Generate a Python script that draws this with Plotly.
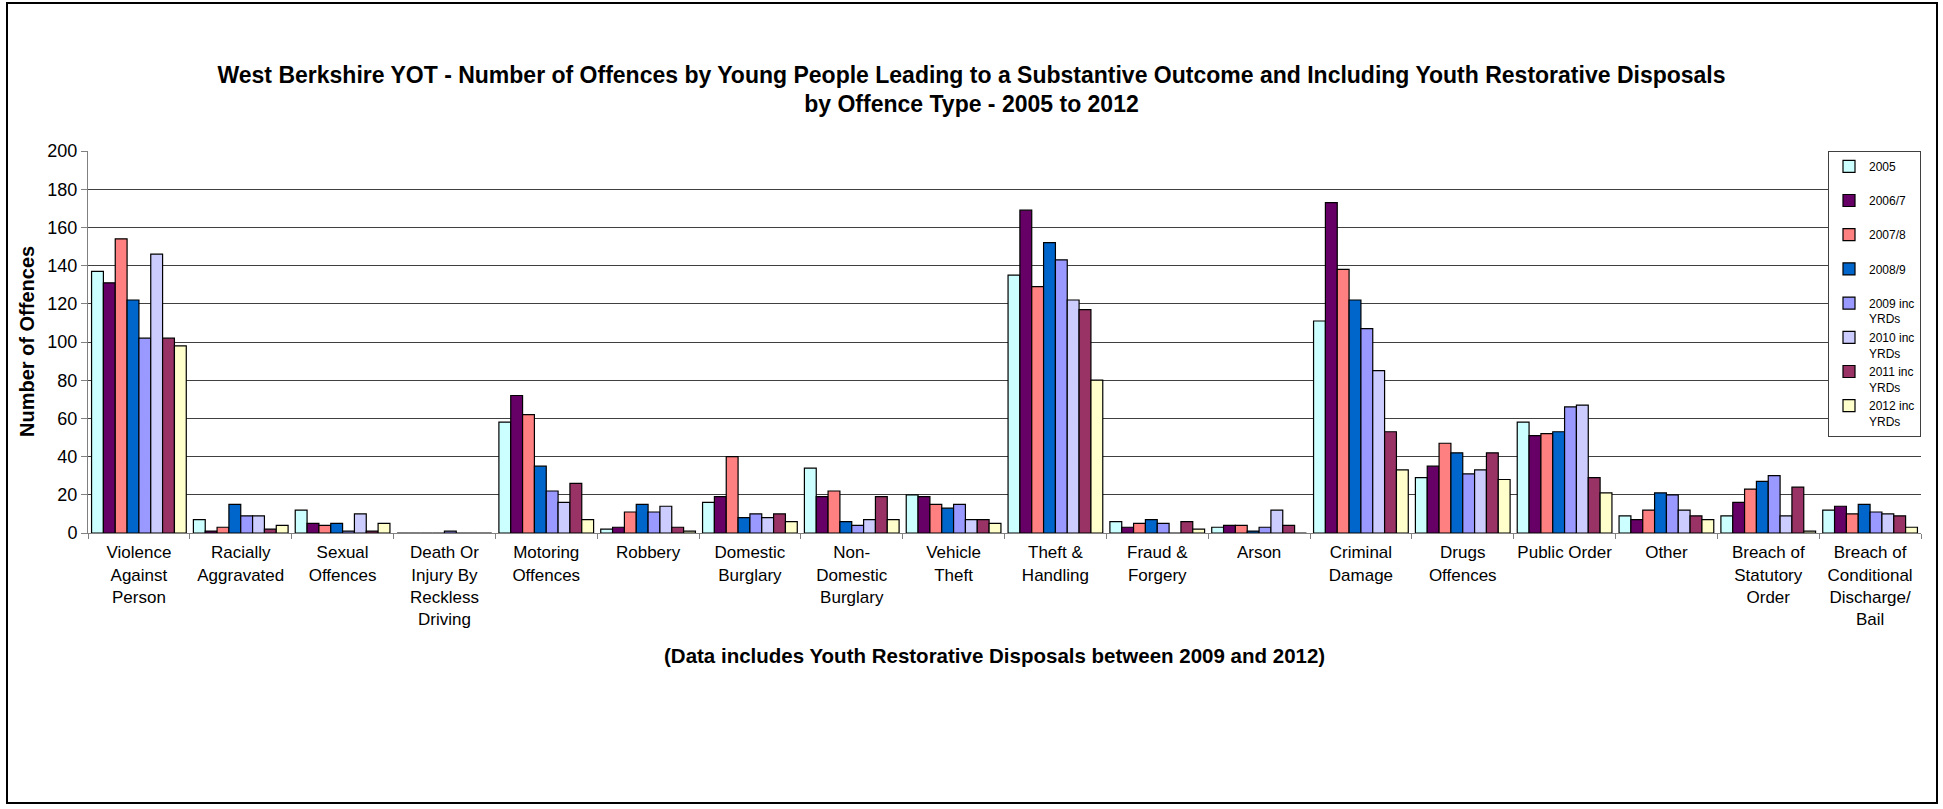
import plotly.graph_objects as go

categories = [
    "Violence Against Person", "Racially Aggravated", "Sexual Offences",
    "Death Or Injury By Reckless Driving", "Motoring Offences", "Robbery",
    "Domestic Burglary", "Non-Domestic Burglary", "Vehicle Theft",
    "Theft & Handling", "Fraud & Forgery", "Arson", "Criminal Damage",
    "Drugs Offences", "Public Order", "Other", "Breach of Statutory Order",
    "Breach of Conditional Discharge/Bail",
]
tick_labels = [
    "Violence<br>Against<br>Person", "Racially<br>Aggravated", "Sexual<br>Offences",
    "Death Or<br>Injury By<br>Reckless<br>Driving", "Motoring<br>Offences", "Robbery",
    "Domestic<br>Burglary", "Non-<br>Domestic<br>Burglary", "Vehicle<br>Theft",
    "Theft &<br>Handling", "Fraud &<br>Forgery", "Arson", "Criminal<br>Damage",
    "Drugs<br>Offences", "Public Order", "Other", "Breach of<br>Statutory<br>Order",
    "Breach of<br>Conditional<br>Discharge/<br>Bail",
]

series_names = ["2005", "2006/7", "2007/8", "2008/9", "2009 inc YRDs",
                "2010 inc YRDs", "2011 inc YRDs", "2012 inc YRDs"]
legend_labels = ["2005<br> ", "2006/7<br> ", "2007/8<br> ", "2008/9<br> ",
                 "2009 inc<br>YRDs", "2010 inc<br>YRDs", "2011 inc<br>YRDs",
                 "2012 inc<br>YRDs"]

v2005 = [137, 7, 12, 0, 58, 2, 16, 34, 20, 135, 6, 3, 111, 29, 58, 9, 9, 12]
v2006 = [131, 1, 5, 0, 72, 3, 19, 19, 19, 169, 3, 4, 173, 35, 51, 7, 16, 14]
v2007 = [154, 3, 4, 0, 62, 11, 40, 22, 15, 129, 5, 4, 138, 47, 52, 12, 23, 10]
v2008 = [122, 15, 5, 0, 35, 15, 8, 6, 13, 152, 7, 1, 122, 42, 53, 21, 27, 15]
v2009 = [102, 9, 1, 1, 22, 11, 10, 4, 15, 143, 5, 3, 107, 31, 66, 20, 30, 11]
v2010 = [146, 9, 10, 0, 16, 14, 8, 7, 7, 122, 0, 12, 85, 33, 67, 12, 9, 10]
v2011 = [102, 2, 1, 0, 26, 3, 10, 19, 7, 117, 6, 4, 53, 42, 29, 9, 24, 9]
v2012 = [98, 4, 5, 0, 7, 1, 6, 7, 5, 80, 2, 0, 33, 28, 21, 7, 1, 3]
series_values = [v2005, v2006, v2007, v2008, v2009, v2010, v2011, v2012]

colors = ["#CCFFFF", "#660066", "#FF8080", "#0066CC",
          "#9999FF", "#CCCCFF", "#993366", "#FFFFCC"]

FONT = "Liberation Sans, Arial, sans-serif"

fig = go.Figure()
for name, lab, vals, col in zip(series_names, legend_labels, series_values, colors):
    fig.add_trace(go.Bar(
        x=categories, y=vals, name=lab, legendgroup=name,
        marker=dict(color=col, line=dict(color="black", width=1.2)),
    ))

W, H = 1943, 809
L, R, T, B = 88, 1921, 151, 533
pw, ph = R - L, B - T

def px_x(px):
    return (px - L) / pw

def px_y(py):
    return (B - py) / ph

fig.update_layout(
    width=W, height=H,
    margin=dict(l=L, r=W - R, t=T, b=H - B, pad=0),
    paper_bgcolor="white", plot_bgcolor="white",
    barmode="group", bargap=0.07, bargroupgap=0,
    font=dict(family=FONT, color="black"),
    title=dict(
        text="<b>West Berkshire YOT - Number of Offences by Young People Leading to a Substantive Outcome and Including Youth Restorative Disposals<br>by Offence Type - 2005 to 2012</b>",
        font=dict(size=23, family=FONT, color="black"),
        x=0.5, xref="container", xanchor="center",
        y=1 - 82.5 / H, yref="container", yanchor="middle",
    ),
    showlegend=True,
    legend=dict(
        x=1, xanchor="right", y=1, yanchor="top",
        bgcolor="white", bordercolor="#404040", borderwidth=1,
        font=dict(size=12, family=FONT, color="black"),
        tracegroupgap=0, valign="top", itemwidth=30,
        traceorder="normal",
    ),
    xaxis=dict(
        tickmode="array", tickvals=categories, ticktext=tick_labels,
        tickson="boundaries", ticks="outside", ticklen=5, tickcolor="#808080",
        showline=True, linecolor="#808080", linewidth=1, tickangle=0,
        tickfont=dict(size=17, family=FONT, color="black"),
        showgrid=False, ticklabelstandoff=4,
    ),
    yaxis=dict(
        range=[0, 200], dtick=20, tick0=0,
        ticks="outside", ticklen=6, tickcolor="#808080",
        showline=True, linecolor="#808080", linewidth=1,
        showgrid=True, gridcolor="#404040", gridwidth=1,
        zeroline=False,
        tickfont=dict(size=18, family=FONT, color="black"),
    ),
    annotations=[
        dict(text="<b>Number of Offences</b>", textangle=-90,
             x=px_x(27), y=0.5, xref="paper", yref="paper",
             xanchor="center", yanchor="middle", showarrow=False,
             font=dict(size=20, family=FONT, color="black")),
        dict(text="<b>(Data includes Youth Restorative Disposals between 2009 and 2012)</b>",
             x=px_x(994), y=px_y(655), xref="paper", yref="paper",
             xanchor="center", yanchor="middle", showarrow=False,
             font=dict(size=20.5, family=FONT, color="black")),
    ],
    shapes=[
        dict(type="rect", xref="paper", yref="paper",
             x0=px_x(7), x1=px_x(1937), y0=px_y(803), y1=px_y(3),
             line=dict(color="black", width=2), fillcolor="rgba(0,0,0,0)",
             layer="below"),
    ],
)

fig.write_html("out.html")
